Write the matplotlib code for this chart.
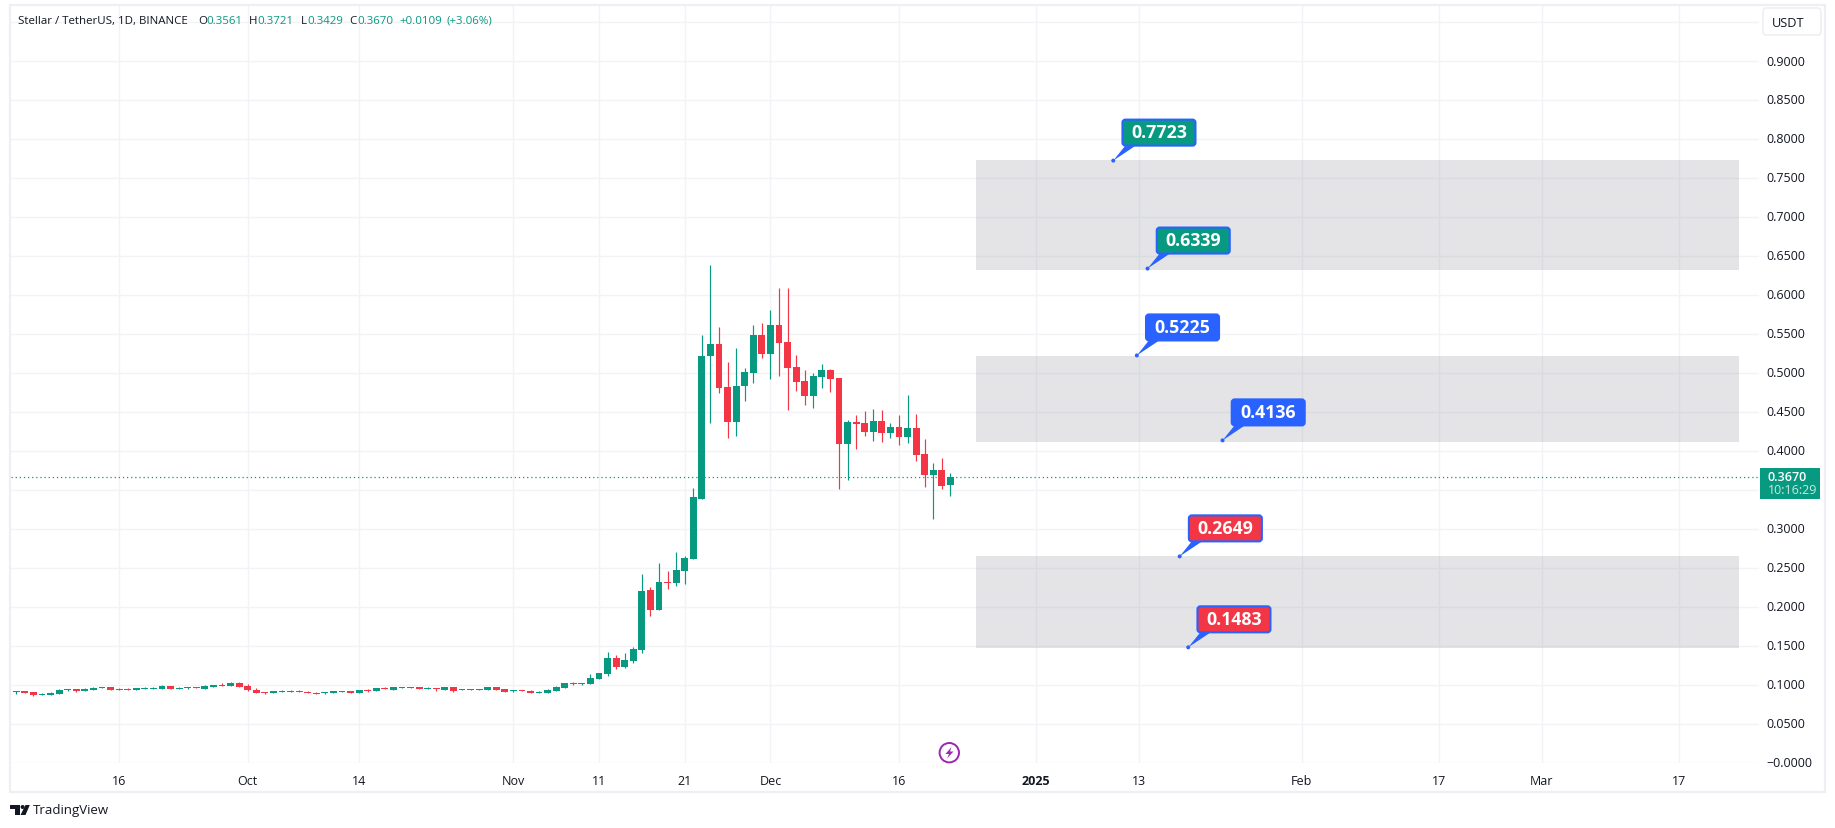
import matplotlib
matplotlib.use('Agg')
import matplotlib.pyplot as plt
import matplotlib.dates as mdates
from matplotlib.patches import Circle, FancyBboxPatch, Polygon, Rectangle
import numpy as np
import pandas as pd

plt.rcParams['font.family'] = ['Open Sans', 'DejaVu Sans']

GREEN = '#089981'
RED = '#F23645'
BLUE = '#2962FF'
TEXT = '#131722'
GRID = '#F2F3F6'
FRAME = '#EEEFF4'

# daily candles, starting 4 Sep 2024
start_date = '2024-09-04'
opens = [.0910, .0923, .0910, .0872, .0872, .0885, .0936, .0949, .0923, .0936,
         .0962, .0974, .0949, .0949, .0936, .0949, .0949, .0949, .0987, .0949,
         .0962, .0974, .0949, .0974, .1000, .0987, .1026, .0987, .0936, .0910,
         .0897, .0910, .0910, .0923, .0910, .0897, .0897, .0897, .0910, .0923,
         .0897, .0936, .0923, .0962, .0936, .0962, .0962, .0974, .0949, .0962,
         .0936, .0974, .0936, .0936, .0936, .0936, .0974, .0949, .0923, .0936,
         .0923, .0897, .0897, .0923, .0962, .1026, .1013, .1013, .1077, .1141,
         .1346, .1231, .1308, .1449, .2218, .1962, .2321, .2308, .2462, .2615,
         .3385, .5218, .5372, .4821, .4372, .4833, .5000, .5487, .5244, .5615,
         .5397, .5077, .4897, .4705, .4949, .5038, .4936, .4090, .4372, .4359,
         .4244, .4385, .4231, .4308, .4179, .4295, .3962, .3692, .3756, .3561]
highs = [.0919, .0923, .0910, .0897, .0910, .0949, .0949, .0949, .0962, .0974,
         .0974, .0974, .0962, .0962, .0962, .0974, .0974, .1000, .0987, .0974,
         .0974, .0974, .1000, .1000, .1026, .1038, .1038, .1013, .0962, .0910,
         .0923, .0936, .0936, .0936, .0923, .0910, .0910, .0923, .0923, .0923,
         .0936, .0949, .0962, .0974, .0974, .0974, .0974, .0974, .0974, .0962,
         .0974, .0974, .0949, .0949, .0949, .0974, .0974, .0949, .0936, .0936,
         .0936, .0923, .0949, .0987, .1026, .1038, .1026, .1141, .1154, .1423,
         .1385, .1410, .1487, .2423, .2256, .2564, .2462, .2705, .2654, .3526,
         .5487, .6385, .5590, .5141, .5321, .5064, .5615, .5641, .5808, .6090,
         .6090, .5231, .5038, .5000, .5115, .5051, .4936, .4397, .4462, .4513,
         .4538, .4526, .4359, .4462, .4718, .4474, .4154, .3846, .3910, .3721]
lows = [.0889, .0897, .0863, .0872, .0872, .0885, .0923, .0910, .0923, .0936,
        .0962, .0936, .0936, .0936, .0936, .0949, .0949, .0949, .0949, .0949,
        .0949, .0962, .0949, .0974, .0987, .0987, .0974, .0923, .0897, .0885,
        .0897, .0910, .0910, .0910, .0897, .0885, .0885, .0897, .0910, .0897,
        .0897, .0910, .0923, .0949, .0936, .0962, .0962, .0949, .0949, .0923,
        .0936, .0910, .0936, .0936, .0936, .0936, .0936, .0910, .0910, .0923,
        .0897, .0897, .0897, .0923, .0962, .1000, .1000, .1013, .1077, .1115,
        .1205, .1218, .1282, .1410, .1885, .1962, .2231, .2269, .2295, .2615,
        .3385, .4359, .4744, .4167, .4192, .4641, .4872, .5192, .4923, .4962,
        .4526, .4769, .4590, .4551, .4808, .4756, .3513, .3628, .4026, .4192,
        .4128, .4115, .4167, .4077, .4103, .3872, .3538, .3128, .3513, .3429]
closes = [.0919, .0897, .0872, .0885, .0897, .0936, .0949, .0923, .0949, .0962,
          .0974, .0936, .0936, .0936, .0962, .0962, .0962, .0987, .0949, .0962,
          .0974, .0962, .0987, .1000, .0987, .1026, .0974, .0936, .0897, .0897,
          .0923, .0923, .0923, .0910, .0897, .0885, .0910, .0923, .0923, .0897,
          .0936, .0923, .0962, .0949, .0974, .0974, .0974, .0949, .0962, .0949,
          .0974, .0923, .0949, .0949, .0949, .0974, .0936, .0910, .0936, .0923,
          .0897, .0910, .0936, .0974, .1026, .1013, .1026, .1090, .1154, .1346,
          .1231, .1321, .1462, .2205, .1962, .2321, .2308, .2474, .2628, .3410,
          .5218, .5372, .4808, .4372, .4833, .5013, .5487, .5244, .5615, .5385,
          .5064, .4885, .4705, .4962, .5038, .4923, .4090, .4372, .4346, .4244,
          .4385, .4231, .4308, .4179, .4295, .3949, .3692, .3756, .3551, .3670]

last_price = 0.3670

# grey zones as drawn: low, high
zone_lows = [0.6322, 0.4118, 0.1475]
zone_highs = [0.7731, 0.5218, 0.2654]
zone_start = '2024-12-25'
zone_end = '2025-03-24'

# callouts on the zone edges
label_prices = [0.7723, 0.6339, 0.5225, 0.4136, 0.2649, 0.1483]
label_dates = ['2025-01-10 00:00', '2025-01-14 00:00', '2025-01-12 18:00',
               '2025-01-22 18:00', '2025-01-17 18:00', '2025-01-18 18:00']
label_colors = [GREEN, GREEN, BLUE, BLUE, RED, RED]

price_ticks = [0.05 * i for i in range(0, 20)]
# 0.95 sits under the USDT button and 0.35 under the price tag
hidden_ticks = [19, 7]
date_ticks = ['2024-09-16', '2024-10-01', '2024-10-14', '2024-11-01', '2024-11-11',
              '2024-11-21', '2024-12-01', '2024-12-16', '2025-01-01', '2025-01-13',
              '2025-02-01', '2025-02-17', '2025-03-01', '2025-03-17']
date_labels = ['16', 'Oct', '14', 'Nov', '11', '21', 'Dec', '16', '2025', '13',
               'Feb', '17', 'Mar', '17']

W, H = 1835, 829
fig = plt.figure(figsize=(W / 100, H / 100), dpi=100, facecolor='white')

# chart pane, placed by its pixel box
left, right, top, bottom = 11, 1759, 7, 764
ax = fig.add_axes([left / W, 1 - bottom / H, (right - left) / W, (bottom - top) / H])

x = mdates.date2num(pd.date_range(start_date, periods=len(opens)))
o = np.array(opens)
h = np.array(highs)
l = np.array(lows)
c = np.array(closes)
up = c >= o
colors = [GREEN if u else RED for u in up]

wicks = ax.vlines(x, l, h, colors=colors, linewidth=0.85, zorder=3)
wicks.set_snap(True)
ax.bar(x, np.abs(c - o), bottom=np.minimum(o, c), width=0.8, color=colors, linewidth=0, zorder=4)

zx0 = mdates.datestr2num(zone_start)
zx1 = mdates.datestr2num(zone_end)
for lo, hi in zip(zone_lows, zone_highs):
    ax.add_patch(Rectangle((zx0, lo), zx1 - zx0, hi - lo, facecolor='#787B86', alpha=0.2,
                           linewidth=0, zorder=2))

price_line = ax.axhline(last_price, color=GREEN, linewidth=0.9, linestyle=(0, (1, 2.3)), zorder=2)
price_line.set_snap(True)

# x limits from the pixel position of the first candle and the day width
px_per_day = 8.57
ax.set_xlim(x[0] - (16.3 - left) / px_per_day, x[0] + (right - 16.3) / px_per_day)
ax.set_ylim(0, (bottom - top) / 780)

ax.set_axisbelow(True)
ax.grid(True, color=GRID, linewidth=1)
ax.set_xticks(mdates.datestr2num(date_ticks))
ax.set_xticklabels(date_labels)
ax.xaxis.get_ticklabels()[8].set_fontweight('bold')
ax.yaxis.tick_right()
ax.set_yticks(price_ticks)
y_labels = ['%.4f' % p for p in price_ticks]
y_labels[0] = '−0.0000'
for i in hidden_ticks:
    y_labels[i] = ''
ax.set_yticklabels(y_labels)
for t in ax.yaxis.get_ticklabels():
    t.set_va('center')
ax.tick_params(axis='x', length=0, pad=8, labelsize=9, labelcolor=TEXT)
ax.tick_params(axis='y', length=0, pad=5, labelsize=9, labelcolor=TEXT)
for s in ax.spines.values():
    s.set_visible(False)

# overlay in image pixels for the TradingView chrome
ov = fig.add_axes([0, 0, 1, 1], zorder=10)
ov.set_xlim(0, W)
ov.set_ylim(H, 0)
ov.axis('off')
ov.patch.set_alpha(0)

ov.add_patch(Rectangle((10, 6), 1815, 787, fill=False, edgecolor=FRAME, linewidth=1.6))

# legend line
legend_size = 8.25
ov.text(18, 21, 'Stellar / TetherUS, 1D, BINANCE', fontsize=legend_size, color=TEXT, va='center')
legend_bits = [(198, 'O', TEXT), (206.5, '0.3561', GREEN), (249, 'H', TEXT), (257.5, '0.3721', GREEN),
               (300.5, 'L', TEXT), (307.5, '0.3429', GREEN), (349, 'C', TEXT), (357.5, '0.3670', GREEN),
               (399.5, '+0.0109', GREEN), (446, '(+3.06%)', GREEN)]
for bx, txt, col in legend_bits:
    ov.text(bx, 21, txt, fontsize=legend_size, color=col, va='center')

# currency button
ov.add_patch(FancyBboxPatch((1766, 12), 52, 21, boxstyle='round,pad=3,rounding_size=4',
                            facecolor='white', edgecolor=FRAME, linewidth=1.2))
ov.text(1788, 23.5, 'USDT', fontsize=9.2, color=TEXT, ha='center', va='center')

# last price tag
ov.add_patch(Rectangle((1760, 469), 60, 31, facecolor=GREEN, linewidth=0))
ov.text(1767.5, 477.5, '0.3670', fontsize=9, color='white', va='center', fontweight='semibold')
ov.text(1767.5, 491, '10:16:29', fontsize=9, color='#C6E8E1', va='center')

# callouts
for p, d, col in zip(label_prices, label_dates, label_colors):
    tip = ax.transData.transform((mdates.datestr2num(d), p))
    tx, ty = ov.transData.inverted().transform(tip)
    bx0 = tx + 8.7
    by1 = ty - 14.5
    bw, bh = 74, 27
    ov.add_patch(Polygon([(tx, ty), (bx0 + 3, by1), (bx0 + 13, by1)], closed=True,
                         facecolor=BLUE, linewidth=0))
    ov.add_patch(Circle((tx, ty), 2, facecolor=BLUE, linewidth=0))
    ov.add_patch(FancyBboxPatch((bx0 + 3, by1 - bh + 3), bw - 6, bh - 6,
                                boxstyle='round,pad=2.5,rounding_size=3',
                                facecolor=col, edgecolor=BLUE, linewidth=1.5))
    ov.text(bx0 + bw / 2, by1 - bh / 2 - 0.5, '%.4f' % p, fontsize=12.8, color='white',
            fontweight='bold', ha='center', va='center')

# lightning mark
ov.add_patch(Circle((949.3, 753.7), 9.7, facecolor='white', edgecolor='#9C27B0', linewidth=1.4))
ov.add_patch(Polygon([(951.5, 748), (945.5, 755), (949, 755), (947, 759.5), (953.5, 752.5),
                      (950, 752.5)], closed=True, facecolor='#9C27B0', linewidth=0))

# TradingView logo and name
ov.add_patch(Polygon([(10, 806), (20, 806), (20, 816), (15, 816), (15, 810), (10, 810)],
                     closed=True, facecolor=TEXT, linewidth=0))
ov.add_patch(Circle((22.6, 808), 2, facecolor=TEXT, linewidth=0))
ov.add_patch(Polygon([(25.5, 806), (29.8, 806), (25.5, 816), (20.5, 816)], closed=True,
                     facecolor=TEXT, linewidth=0))
ov.text(33, 811, 'TradingView', fontsize=9.5, color=TEXT, va='center')

fig.savefig('out.png', dpi=100)
